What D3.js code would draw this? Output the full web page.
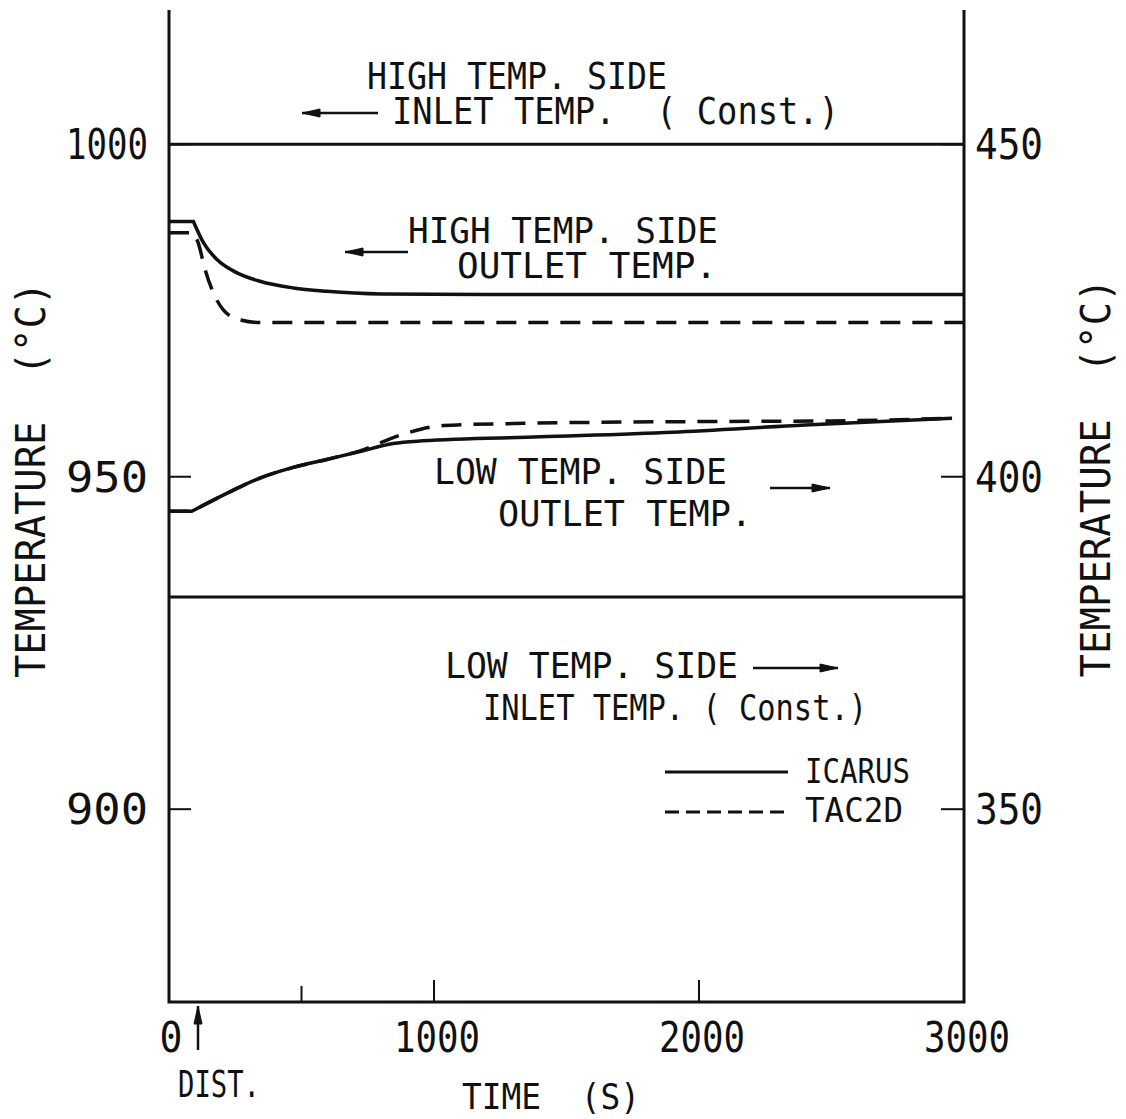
<!DOCTYPE html>
<html>
<head>
<meta charset="utf-8">
<script src="https://cdn.jsdelivr.net/npm/d3@7"></script>
<style>
  body { margin: 0; background: #fff; }
  text { font-family: "DejaVu Sans Mono", "Liberation Mono", monospace; fill: #111; }
</style>
</head>
<body>
<div class="container"></div>
<script>
const width = 1126;
const height = 1119;

// series: [time (s), temperature (°C, left axis)]
const hiInlet = [[0, 1000], [3000, 1000]];
const loInlet = [[0, 931.9], [3000, 931.9]];

const hiOutIcarus = [[0, 988.4], [92, 988.4], [130, 985.2], [180, 982.7], [255, 980.7],
  [343, 979.4], [469, 978.4], [595, 977.9], [800, 977.5], [1200, 977.4], [3000, 977.4]];
const hiOutTac = [[0, 986.7], [92, 986.7], [110, 985.2], [136, 981.2], [167, 977.7],
  [205, 975.1], [268, 973.6], [343, 973.2], [800, 973.2], [3000, 973.2]];

const loOutIcarus = [[0, 944.8], [86, 944.8], [218, 947.5], [343, 949.8], [469, 951.4],
  [595, 952.6], [721, 953.8], [846, 955.0], [956, 955.4], [1400, 956.0], [1900, 956.7],
  [2400, 957.8], [2955, 958.8]];
const loOutTac = [[0, 944.8], [86, 944.8], [218, 947.5], [343, 949.8], [469, 951.4],
  [595, 952.6], [721, 953.9], [884, 956.4], [1035, 957.7], [1300, 958.0], [2000, 958.3],
  [2500, 958.4], [2955, 958.8]];

const xTicks = [500, 1000, 2000];
const xLabels = [0, 1000, 2000, 3000];
const leftTicks = [1000, 950, 900];
const rightTicks = [450, 400, 350];

const x = d3.scaleLinear().domain([0, 3000]).range([169, 964]);
const y = d3.scaleLinear().domain([871, 1020.2]).range([1002, 10]);
const yR = d3.scaleLinear().domain([321, 470.2]).range([1002, 10]);

const svg = d3.select(".container").append("svg")
    .attr("width", width)
    .attr("height", height)
    .style("display", "block");

const smooth = d3.line()
    .x(d => x(d[0]))
    .y(d => y(d[1]))
    .curve(d3.curveMonotoneX);

// flat start, sharp corner at the disturbance, then a smooth curve
const curvePath = s => `M${x(s[0][0])},${y(s[0][1])}` + smooth(s.slice(1)).replace(/^M/, "L");

// axes frame (left, right, bottom)
const frame = svg.append("g").attr("stroke", "#111").attr("stroke-width", 3).attr("fill", "none");
frame.append("path").attr("d", `M${x(0)},${y(1020.2)}V${y(871)}H${x(3000)}V${y(1020.2)}`);

// ticks
frame.selectAll(".xt").data(xTicks).join("line")
    .attr("x1", d => x(d)).attr("x2", d => x(d))
    .attr("y1", y(871)).attr("y2", d => y(871) - (d === 500 ? 16 : 22))
    .attr("stroke-width", 2);
frame.selectAll(".lt").data(leftTicks).join("line")
    .attr("x1", x(0)).attr("x2", x(0) + 22)
    .attr("y1", d => y(d)).attr("y2", d => y(d))
    .attr("stroke-width", 2);
frame.selectAll(".rt").data(rightTicks).join("line")
    .attr("x1", x(3000)).attr("x2", x(3000) - 23)
    .attr("y1", d => yR(d)).attr("y2", d => yR(d))
    .attr("stroke-width", 2);

// curves
const curves = svg.append("g").attr("fill", "none").attr("stroke", "#111");
[hiInlet, loInlet].forEach(s => curves.append("path").attr("d", smooth(s)).attr("stroke-width", 3));
[hiOutIcarus, loOutIcarus].forEach(s => curves.append("path").attr("d", curvePath(s)).attr("stroke-width", 3.5));
[hiOutTac, loOutTac].forEach(s => curves.append("path").attr("d", curvePath(s))
    .attr("stroke-width", 3.5).attr("stroke-dasharray", "20,12"));

// text helper
function label(g, px, py, str, size, len, anchor) {
  const t = g.append("text")
      .attr("x", px).attr("y", py)
      .attr("font-size", size)
      .attr("text-anchor", anchor || "start")
      .style("white-space", "pre")
      .text(str);
  if (len) t.attr("textLength", len).attr("lengthAdjust", "spacingAndGlyphs");
  return t;
}

const txt = svg.append("g");

// tick labels
leftTicks.forEach(v => label(txt, 148, y(v) + 15, String(v), 42, 82, "end"));
rightTicks.forEach(v => label(txt, 975, yR(v) + 15, String(v), 42, 68));
xLabels.forEach(v => label(txt, x(v) + (v === 0 ? 2 : 3), 1052, String(v), 42, v === 0 ? 23 : 86, "middle"));

// axis titles
label(txt, 462, 1109, "TIME  (S)", 36, 178);
label(txt, 0, 0, "TEMPERATURE  (°C)", 40, 396, "middle")
    .attr("transform", "translate(45,480) rotate(-90)");
label(txt, 0, 0, "TEMPERATURE  (°C)", 40, 399, "middle")
    .attr("transform", "translate(1110,478) rotate(-90)");
label(txt, 178, 1097, "DIST.", 38, 82);

// annotations
label(txt, 367, 89, "HIGH TEMP. SIDE", 38, 300);
label(txt, 392, 124, "INLET TEMP.  ( Const.)", 38, 447);
label(txt, 408, 243, "HIGH TEMP. SIDE", 36, 310);
label(txt, 457, 278, "OUTLET TEMP.", 36, 260);
label(txt, 434, 484, "LOW TEMP. SIDE", 36, 293);
label(txt, 498, 526, "OUTLET TEMP.", 36, 254);
label(txt, 445, 678, "LOW TEMP. SIDE", 36, 293);
label(txt, 483, 720, "INLET TEMP. ( Const.)", 36, 384);

// arrows
const arrows = svg.append("g").attr("stroke", "#111").attr("stroke-width", 2.5);
function arrow(x1, y1, x2, y2) {
  const a = Math.atan2(y2 - y1, x2 - x1);
  const L = 18, w = 4;
  arrows.append("line").attr("x1", x1).attr("y1", y1).attr("x2", x2).attr("y2", y2);
  const bx = x2 - L * Math.cos(a), by = y2 - L * Math.sin(a);
  const nx = -Math.sin(a) * w, ny = Math.cos(a) * w;
  arrows.append("path")
      .attr("d", `M${x2},${y2}L${bx + nx},${by + ny}L${bx - nx},${by - ny}Z`)
      .attr("fill", "#111").attr("stroke-width", 1);
}
arrow(378, 113, 302, 113);
arrow(408, 252, 345, 252);
arrow(770, 488, 830, 488);
arrow(753, 668, 838, 668);
arrow(198, 1050, 198, 1006);

// legend
const leg = svg.append("g");
leg.append("line").attr("x1", 665).attr("x2", 788).attr("y1", 772).attr("y2", 772)
    .attr("stroke", "#111").attr("stroke-width", 3);
leg.append("line").attr("x1", 665).attr("x2", 788).attr("y1", 812).attr("y2", 812)
    .attr("stroke", "#111").attr("stroke-width", 3).attr("stroke-dasharray", "14,7");
label(leg, 805, 783, "ICARUS", 34, 105);
label(leg, 805, 822, "TAC2D", 34, 98);
</script>
</body>
</html>
